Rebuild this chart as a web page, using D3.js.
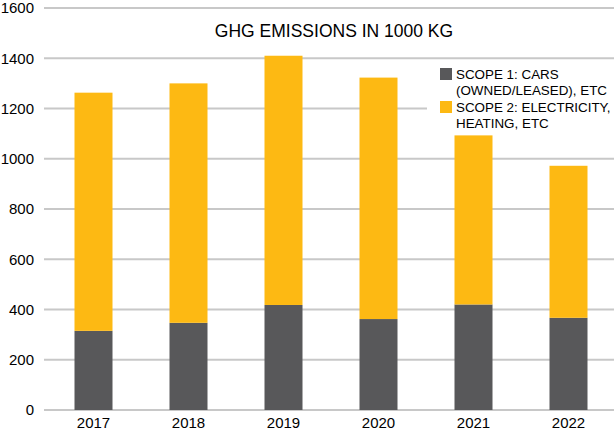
<!DOCTYPE html>
<html><head><meta charset="utf-8">
<script src="https://cdn.jsdelivr.net/npm/d3@7"></script>
<style>body{margin:0;background:#fff}svg{display:block;font-family:"Liberation Sans",Arial,sans-serif}</style>
</head><body><svg width="614" height="437"></svg>
<script>
const years = ["2017","2018","2019","2020","2021","2022"];
const scope1 = [315, 347, 418, 362, 420, 367];
const scope2 = [948, 953, 992, 961, 673, 605];
const yTicks = [0,200,400,600,800,1000,1200,1400,1600];
const seriesNames = [["SCOPE 1: CARS","(OWNED/LEASED), ETC"],["SCOPE 2: ELECTRICITY,","HEATING, ETC"]];
const colors = ["#58585a","#fdb913"];

const svg = d3.select("svg");
const x = d3.scaleBand().domain(years).range([46,616]).paddingInner(0.6).paddingOuter(0.3);
const y = d3.scaleLinear().domain([0,1600]).range([410,8]);

// gridlines
svg.append("g").selectAll("line").data(yTicks).join("line")
  .attr("x1",44).attr("x2",614).attr("y1",d=>y(d)).attr("y2",d=>y(d))
  .attr("stroke","#c8c8c8").attr("stroke-width",2);

// y labels
svg.append("g").selectAll("text").data(yTicks).join("text")
  .attr("x",34).attr("y",d=>y(d)).attr("dy","0.36em").attr("text-anchor","end")
  .attr("font-size",15).attr("fill","#000").text(d=>d);

const data = years.map((yr,i)=>({yr, s1:scope1[i], s2:scope2[i]}));
const stack = d3.stack().keys(["s1","s2"])(data);
svg.append("g").selectAll("g").data(stack).join("g").attr("fill",(d,i)=>colors[i])
  .selectAll("rect").data(d=>d).join("rect")
  .attr("x",d=>x(d.data.yr)).attr("width",x.bandwidth())
  .attr("y",d=>y(d[1])).attr("height",d=>y(d[0])-y(d[1]));

// x labels
svg.append("g").selectAll("text").data(years).join("text")
  .attr("x",d=>x(d)+x.bandwidth()/2).attr("y",428).attr("text-anchor","middle")
  .attr("font-size",15).attr("fill","#000").text(d=>d);

// title
svg.append("text").attr("x",334).attr("y",37).attr("text-anchor","middle")
  .attr("font-size",17.5).attr("fill","#000").text("GHG EMISSIONS IN 1000 KG");

// legend
const lg = svg.append("g");
lg.append("rect").attr("x",427).attr("y",62).attr("width",187).attr("height",72).attr("fill","#fff");
seriesNames.forEach((lines,i)=>{
  const top = 68 + i*33;
  lg.append("rect").attr("x",440).attr("y",top).attr("width",12).attr("height",12).attr("fill",colors[i]);
  lines.forEach((t,j)=>{
    lg.append("text").attr("x",456).attr("y",top+11+j*16).attr("font-size",13.4).attr("fill","#000").text(t);
  });
});
</script></body></html>
